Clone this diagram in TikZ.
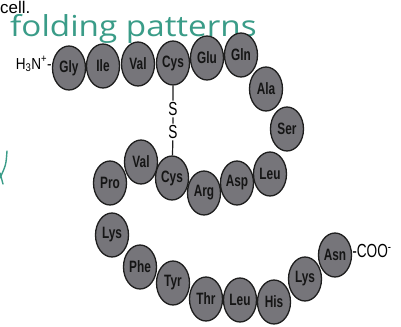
\documentclass[tikz,border=0pt]{standalone}
\usepackage{fontspec}
\setmainfont{Liberation Sans}
\newfontfamily\condfont[FakeStretch=0.72]{Liberation Sans}
\newfontfamily\labelfont[FakeStretch=0.85]{Liberation Sans}
\newfontfamily\handfont[FakeStretch=1.15]{Open Sans}
\usepackage{tikz}
\usetikzlibrary{
  shapes.geometric,
  positioning
}
\definecolor{resFill}{HTML}{76757A}
\definecolor{resEdge}{HTML}{1E1E1E}
\definecolor{resText}{HTML}{151515}
\definecolor{inkTeal}{HTML}{3A9C88}
\tikzset{
  res/.style={
    ellipse, draw=resEdge, line width=1.3bp, fill=resFill, text=resText,
    minimum width=33bp, minimum height=44bp, inner sep=0pt,
    font=\condfont\bfseries\fontsize{16.5}{18}\selectfont
  },
  sulfur/.style={inner sep=1.5bp, font=\condfont\fontsize{19}{20}\selectfont},
  bond/.style={line width=1.2bp, resEdge},
  tag/.style={inner sep=0pt, font=\labelfont\fontsize{16}{18}\selectfont},
  ink/.style={inkTeal, line width=1.4bp, line cap=round},
  hand/.style={inner sep=0pt, text=inkTeal, font=\handfont\fontsize{29}{31}\selectfont}
}
\begin{document}
\begin{tikzpicture}[x=1bp, y=-1bp]
  \path[use as bounding box, fill=white] (0,0) rectangle (401,327);
  % handwriting and page text
  \node[inner sep=0pt, anchor=base west, font=\fontsize{17}{19}\selectfont] (cell) at (0,13.5) {cell.};
  \node[hand, anchor=base west] (note) at (10,36) {folding patterns};
  \draw[ink] (7,151) .. controls (6,165) .. (0,178);
  \draw[ink] (0,173) -- (3,184);
  % top strand
  \node[res] (gly) at (69,68) {Gly};
  \node[res] (ile) at (103,66) {Ile};
  \node[res] (val) at (138,64) {Val};
  \node[res] (cysA) at (173,63) {Cys};
  \node[res] (glu) at (207,58) {Glu};
  \node[res] (gln) at (241,55) {Gln};
  \node[res] (ala) at (266,89) {Ala};
  \node[res] (ser) at (287,129) {Ser};
  % middle strand
  \node[res] (leuA) at (270,174) {Leu};
  \node[res] (asp) at (237,183) {Asp};
  \node[res] (arg) at (204,193) {Arg};
  \node[res] (cysB) at (172,178) {Cys};
  \node[res] (valB) at (141,162) {Val};
  \node[res] (pro) at (110,183) {Pro};
  % bottom strand
  \node[res] (lysA) at (112,235) {Lys};
  \node[res] (phe) at (140,267) {Phe};
  \node[res] (tyr) at (173,283) {Tyr};
  \node[res] (thr) at (206,299) {Thr};
  \node[res] (leuB) at (240,300) {Leu};
  \node[res] (his) at (274,302) {His};
  \node[res] (lysB) at (305,279) {Lys};
  \node[res] (asn) at (335,255) {Asn};
  % ends
  \node[tag, left=0pt of gly, yshift=4bp] (nterm) {H\textsubscript{3}N\textsuperscript{+}-};
  \node[tag, right=0pt of asn, yshift=4bp, font=\condfont\fontsize{19}{20}\selectfont] (cterm) {-COO\textsuperscript{-}};
  % disulfide bridge
  \node[sulfur] (sA) at (173,109) {S};
  \node[sulfur] (sB) at (173,132) {S};
  \draw[bond] (cysA) -- (sA) -- (sB) -- (cysB);
\end{tikzpicture}
\end{document}
